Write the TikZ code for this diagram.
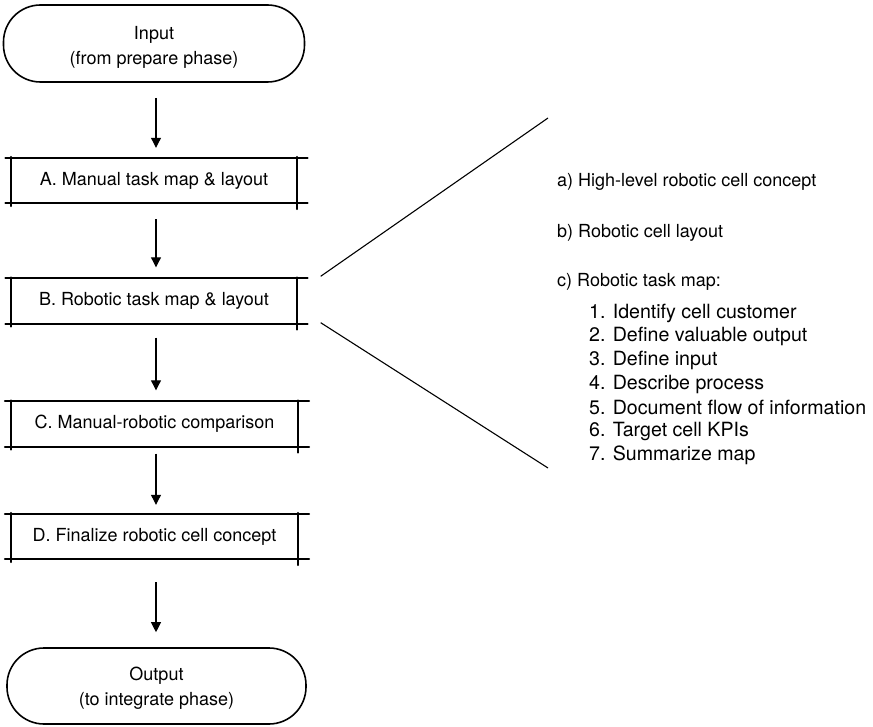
\documentclass[tikz,border=0pt]{standalone}
\usepackage{fontspec}
\setmainfont{TeX Gyre Heros}
\usetikzlibrary{arrows.meta}
\tikzset{
  term/.style={draw, line width=1.6pt, rounded corners=37pt, align=center,
    font=\fontsize{18}{25}\selectfont, inner sep=0pt},
  stepbox/.style={minimum width=285pt, minimum height=45pt, inner sep=0pt,
    font=\fontsize{18}{22}\selectfont},
  edge/.style={line width=1.8pt, line cap=round},
  arr/.style={line width=1.1pt, -{Triangle[length=10pt,width=10pt]}},
  fan/.style={line width=1.1pt},
  txt/.style={anchor=west, inner sep=0pt, font=\fontsize{18}{22}\selectfont},
  ltxt/.style={anchor=west, inner sep=0pt, font=\fontsize{19.6}{23}\selectfont},
}
\newcommand{\handbox}[1]{%
  \draw[edge] ([xshift=-6pt]#1.north west) -- ([xshift=11pt]#1.north east);
  \draw[edge] ([xshift=-6pt]#1.south west) -- ([xshift=11pt]#1.south east);
  \draw[edge] ([yshift=1pt]#1.north west) -- ([yshift=-3pt]#1.south west);
  \draw[edge] ([yshift=1pt]#1.north east) -- ([yshift=-6pt]#1.south east);
}
\begin{document}
\begin{tikzpicture}[x=1pt,y=-1pt]
\useasboundingbox (0,0) rectangle (873,727);

\node[term, minimum width=301pt, minimum height=77pt] (in) at (154,43.5) {\rule{0pt}{21pt}Input\\(from prepare phase)};
\node[stepbox] (A) at (154,180.5) {A. Manual task map \& layout};
\node[stepbox] (B) at (154,301) {B. Robotic task map \& layout};
\node[stepbox, minimum width=287pt] (C) at (154.5,424) {C. Manual-robotic comparison};
\node[stepbox, minimum width=287pt] (D) at (154.5,536.5) {D. Finalize robotic cell concept};
\node[term, minimum width=299pt, minimum height=76pt] (out) at (156.5,686) {\rule{0pt}{17pt}Output\\(to integrate phase)};

\handbox{A}
\handbox{B}
\handbox{C}
\handbox{D}

\draw[arr] ([xshift=2pt,yshift=-15pt]in.south) -- ([xshift=2pt,yshift=10pt]A.north);
\draw[arr] ([xshift=2pt,yshift=-16pt]A.south) -- ([xshift=2pt,yshift=11pt]B.north);
\draw[arr] ([xshift=2pt,yshift=-14pt]B.south) -- ([xshift=1.5pt,yshift=11pt]C.north);
\draw[arr] ([xshift=1.5pt,yshift=-7pt]C.south) -- ([xshift=1.5pt,yshift=9pt]D.north);
\draw[arr] ([xshift=1.5pt,yshift=-23pt]D.south) -- ([xshift=-0.5pt,yshift=15pt]out.north);

\coordinate (f1) at (548,118);
\coordinate (f2) at (548,468);
\draw[fan] ([xshift=24pt,yshift=2pt]B.north east) -- (f1);
\draw[fan] ([xshift=24pt,yshift=1pt]B.south east) -- (f2);

\node[txt] (ta) at (557,182) {a) High-level robotic cell concept};
\node[txt] (tb) at (557,233) {b) Robotic cell layout};
\node[txt] (tc) at (557,282) {c) Robotic task map:};
\node[ltxt] (l1) at (589,313) {1. Identify cell customer};
\node[ltxt] (l2) at (589,336.7) {2. Define valuable output};
\node[ltxt] (l3) at (589,360.4) {3. Define input};
\node[ltxt] (l4) at (589,384.1) {4. Describe process};
\node[ltxt] (l5) at (589,407.8) {5. Document flow of information};
\node[ltxt] (l6) at (589,431.5) {6. Target cell KPIs};
\node[ltxt] (l7) at (589,455.2) {7. Summarize map};
\end{tikzpicture}
\end{document}
